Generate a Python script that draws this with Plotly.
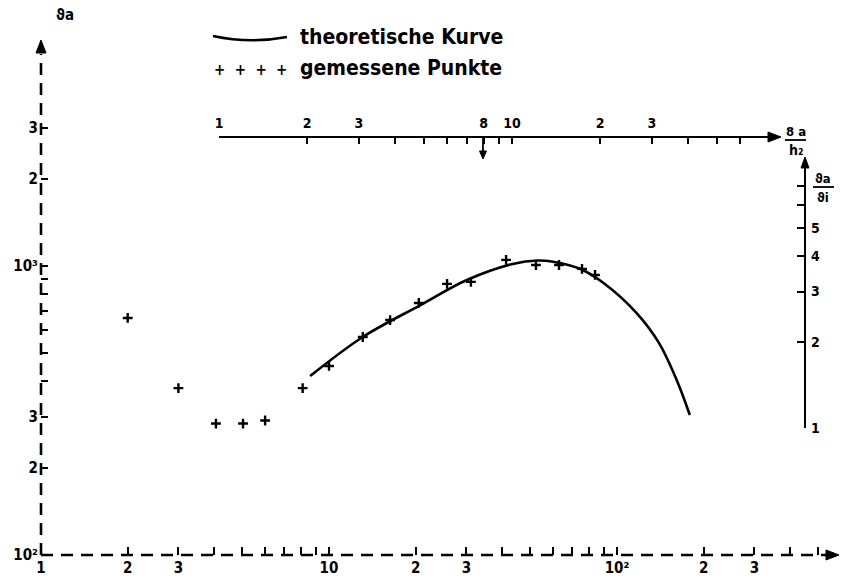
import numpy as np
import plotly.graph_objects as go

# ---------------- data ----------------
x_meas = [2.0, 3.0, 4.05, 5.03, 6.0, 8.1, 10.0, 13.1, 16.3, 20.5, 25.7, 31.1, 41.2, 52.3, 62.9, 75.6, 83.9]
y_meas = [661, 378, 285, 285, 292, 378, 451, 568, 650, 745, 867, 881, 1050, 1008, 1008, 977, 931]

x_theo = [8.6, 13.1, 20.7, 30.1, 43.4, 53.0, 60.0, 74.4, 89.8, 117, 140, 161, 179]
y_theo = [416, 568, 731, 894, 1016, 1045, 1035, 978, 873, 687, 541, 404, 305]

x_tickvals = [1, 2, 3, 10, 20, 30, 100, 200, 300]
x_ticktext = ["1", "2", "3", "10", "2", "3", "10²", "2", "3"]
x_minor = [4, 5, 6, 7, 8, 9, 40, 50, 60, 70, 80, 90, 400, 500]

y_tickvals = [100, 200, 300, 1000, 2000, 3000]
y_ticktext = ["10²", "2", "3", "10³", "2", "3"]
y_minor = [400, 500, 600, 700, 800, 900]

top_tickvals = [1, 2, 3, 8, 10, 20, 30]
top_ticktext = ["1", "2", "3", "8", "10", "2", "3"]
top_minor = [4, 5, 6, 7, 9, 40, 50, 60]

right_tickvals = [1, 2, 3, 4, 5]
right_ticktext = ["1", "2", "3", "4", "5"]
right_minor = [6, 7]

# ---------------- layout geometry (pixels) ----------------
W, H = 841, 581
L, R, T, B = 41, 6, 50, 26
PW, PH = W - L - R, H - T - B


def px(xpix):
    return (xpix - L) / PW


def py(ypix):
    return (H - B - ypix) / PH


FONT = "DejaVu Sans Condensed, DejaVu Sans, Liberation Sans Narrow, sans-serif"
tickfont = dict(family=FONT, size=15, color="black", weight="bold")
smallfont = dict(family=FONT, size=14, color="black", weight="bold")

fig = go.Figure()

fig.add_trace(go.Scatter(
    x=x_theo, y=y_theo, mode="lines",
    line=dict(color="black", width=2.6, shape="spline", smoothing=1.0),
    hoverinfo="skip", showlegend=False))

fig.add_trace(go.Scatter(
    x=x_meas, y=y_meas, mode="markers",
    marker=dict(symbol="cross-thin", size=7, line=dict(color="black", width=2.4)),
    hoverinfo="skip", showlegend=False))

# invisible trace to instantiate the secondary axes
fig.add_trace(go.Scatter(
    x=[1], y=[1], xaxis="x2", yaxis="y2", mode="markers",
    marker=dict(opacity=0), hoverinfo="skip", showlegend=False))

x_hi = PW / 288.0
y_hi = 2 + PH / 289.0

top_left, top_right, top_y = 219, 777, 137
right_x, right_bot, right_top = 805, 428, 163

common = dict(showgrid=False, zeroline=False, automargin=False, tickcolor="black",
              ticklabelstandoff=2)

fig.update_layout(
    template="none",
    width=W, height=H,
    margin=dict(l=L, r=R, t=T, b=B, pad=0, autoexpand=False),
    paper_bgcolor="white", plot_bgcolor="rgba(0,0,0,0)",
    font=dict(family=FONT, color="black"),
    xaxis=dict(type="log", range=[0, x_hi], domain=[0, 1], showline=False,
               tickmode="array", tickvals=x_tickvals, ticktext=x_ticktext,
               ticks="inside", ticklen=8, tickwidth=2.2, tickfont=tickfont,
               minor=dict(tickmode="array", tickvals=x_minor, ticks="inside",
                          ticklen=8, tickwidth=2.2, tickcolor="black", showgrid=False),
               **common),
    yaxis=dict(type="log", range=[2, y_hi], domain=[0, 1], showline=False,
               tickmode="array", tickvals=y_tickvals, ticktext=y_ticktext,
               ticks="inside", ticklen=7, tickwidth=2.2, tickfont=tickfont,
               minor=dict(tickmode="array", tickvals=y_minor, ticks="inside",
                          ticklen=7, tickwidth=2.2, tickcolor="black", showgrid=False),
               **common),
    xaxis2=dict(type="log", domain=[px(top_left), px(top_right)],
                range=[0, (top_right - top_left) / 293.0],
                anchor="free", position=py(top_y), side="top",
                showline=True, linecolor="black", linewidth=2.2,
                tickmode="array", tickvals=top_tickvals, ticktext=top_ticktext,
                ticks="inside", ticklen=6, tickwidth=2, tickfont=smallfont,
                minor=dict(tickmode="array", tickvals=top_minor, ticks="inside",
                           ticklen=6, tickwidth=2, tickcolor="black", showgrid=False),
                **common),
    yaxis2=dict(type="log", domain=[py(right_bot), py(right_top)],
                range=[0, (right_bot - right_top) / 286.0],
                anchor="free", position=px(right_x), side="right",
                showline=True, linecolor="black", linewidth=2.2,
                tickmode="array", tickvals=right_tickvals, ticktext=right_ticktext,
                ticks="inside", ticklen=7, tickwidth=2, tickfont=smallfont,
                minor=dict(tickmode="array", tickvals=right_minor, ticks="inside",
                           ticklen=7, tickwidth=2, tickcolor="black", showgrid=False),
                **common),
    showlegend=False,
)


def tri(tip_x, tip_y, direction, length=13, half=5):
    """filled arrowhead path in paper coords, tip given in pixels"""
    if direction == "right":
        pts = [(tip_x, tip_y), (tip_x - length, tip_y - half), (tip_x - length, tip_y + half)]
    elif direction == "up":
        pts = [(tip_x, tip_y), (tip_x - half, tip_y + length), (tip_x + half, tip_y + length)]
    else:  # down
        pts = [(tip_x, tip_y), (tip_x - half, tip_y - length), (tip_x + half, tip_y - length)]
    p = "M " + " L ".join(f"{px(a):.5f},{py(b):.5f}" for a, b in pts) + " Z"
    return dict(type="path", xref="paper", yref="paper", path=p,
                fillcolor="black", line=dict(color="black", width=1))


shapes = []
# dashed main axes
shapes.append(dict(type="line", xref="paper", yref="paper",
                   x0=0, x1=px(826), y0=0, y1=0,
                   line=dict(color="black", width=2.6, dash="12px,8px")))
shapes.append(dict(type="line", xref="paper", yref="paper",
                   x0=0, x1=0, y0=0, y1=py(54),
                   line=dict(color="black", width=2.6, dash="12px,8px")))
shapes.append(tri(839, 555, "right"))
shapes.append(tri(41, 40, "up"))
# arrowheads of the solid secondary axes
shapes.append(tri(top_right + 4, top_y, "right"))
shapes.append(tri(right_x, right_top - 6, "up", length=11, half=4))
# small arrow at 8 on the top scale
shapes.append(dict(type="line", xref="paper", yref="paper",
                   x0=px(483), x1=px(483), y0=py(138), y1=py(152),
                   line=dict(color="black", width=1.8)))
shapes.append(tri(483, 159, "down", length=8, half=3.5))
# legend sample (slightly wavy line)
x0p, x1p, xm = px(213), px(287), px(250)
path = f"M {x0p},{py(36)} Q {xm},{py(44)} {x1p},{py(37)}"
shapes.append(dict(type="path", xref="paper", yref="paper", path=path,
                   line=dict(color="black", width=2.4)))
# fraction bars for axis labels
shapes.append(dict(type="line", xref="paper", yref="paper",
                   x0=px(785), x1=px(806), y0=py(140), y1=py(140),
                   line=dict(color="black", width=1.8)))
shapes.append(dict(type="line", xref="paper", yref="paper",
                   x0=px(813), x1=px(834), y0=py(187), y1=py(187),
                   line=dict(color="black", width=1.8)))
fig.update_layout(shapes=shapes)

txt = dict(family=FONT, color="black", weight="bold")
ann = []
# axis titles
ann.append(dict(xref="paper", yref="paper", x=px(54), y=py(15), xanchor="left", yanchor="middle",
                text="ϑa", showarrow=False, font=dict(size=15, **txt)))
ann.append(dict(xref="paper", yref="paper", x=px(796), y=py(131), xanchor="center", yanchor="middle",
                text="8 a", showarrow=False, font=dict(size=13, **txt)))
ann.append(dict(xref="paper", yref="paper", x=px(796), y=py(150), xanchor="center", yanchor="middle",
                text="h₂", showarrow=False, font=dict(size=14, **txt)))
ann.append(dict(xref="paper", yref="paper", x=px(823), y=py(178), xanchor="center", yanchor="middle",
                text="ϑa", showarrow=False, font=dict(size=13, **txt)))
ann.append(dict(xref="paper", yref="paper", x=px(823), y=py(197), xanchor="center", yanchor="middle",
                text="ϑi", showarrow=False, font=dict(size=13, **txt)))
# legend texts
ann.append(dict(xref="paper", yref="paper", x=px(298), y=py(37), xanchor="left", yanchor="middle",
                text="theoretische Kurve", showarrow=False, font=dict(size=21, **txt)))
ann.append(dict(xref="paper", yref="paper", x=px(298), y=py(68), xanchor="left", yanchor="middle",
                text="gemessene Punkte", showarrow=False, font=dict(size=21, **txt)))
ann.append(dict(xref="paper", yref="paper", x=px(212), y=py(70), xanchor="left", yanchor="middle",
                text="+  +  +  +", showarrow=False, font=dict(size=15, **txt)))
fig.update_layout(annotations=ann)

fig.write_html("out.html", config={"displayModeBar": False},
               post_script="document.body.style.margin='0';document.body.style.overflow='hidden';")
